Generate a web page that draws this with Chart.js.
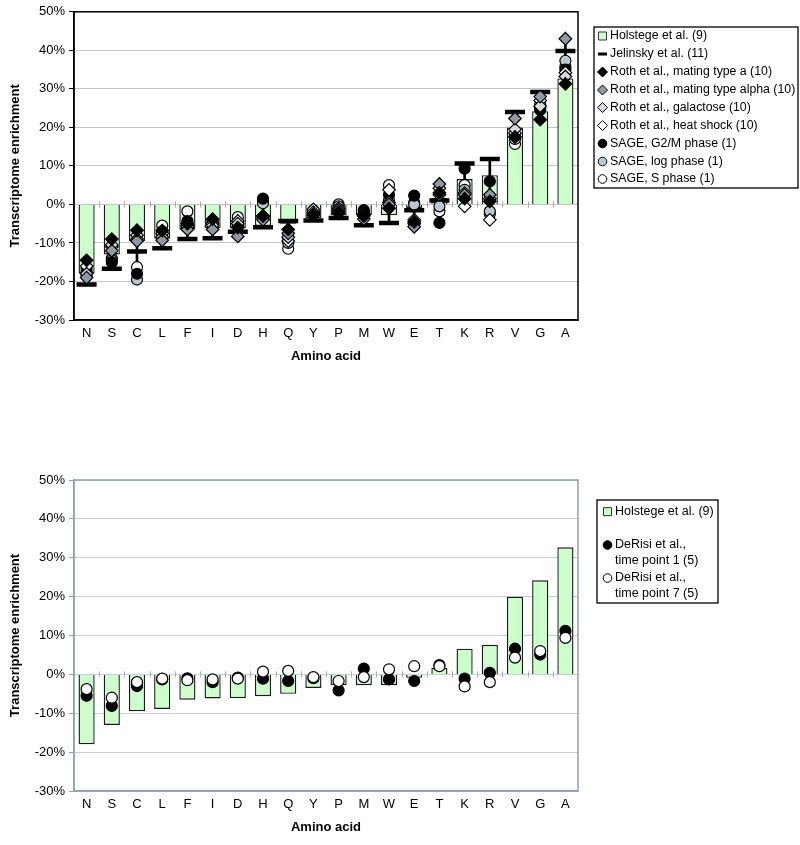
<!DOCTYPE html>
<html><head><meta charset="utf-8">
<script src="https://cdn.jsdelivr.net/npm/chart.js"></script>
<style>
html,body{margin:0;padding:0;background:#fff;width:800px;height:845px;overflow:hidden}
canvas{position:absolute;left:0}
#c1{top:0}
#c2{top:440px}
</style></head><body>
<canvas id="c1" width="800" height="370"></canvas>
<canvas id="c2" width="800" height="405"></canvas>
<script>
// ---------- data ----------
const aminoAcids = ['N','S','C','L','F','I','D','H','Q','Y','P','M','W','E','T','K','R','V','G','A'];
const yTickValues = [-30,-20,-10,0,10,20,30,40,50];

const holstege  = [-18,-13,-9.5,-8.9,-6.5,-6.2,-6.1,-5.6,-5,-3.5,-2.8,-2.8,-2.8,-0.9,1.7,6.6,7.6,20,24.2,32.7];
const jelinsky  = [-20.8,-16.7,-12.2,-11.4,-9,-8.8,-7.1,-5.9,-4.3,-4.2,-3.5,-5.4,-4.8,-1.5,1,10.6,11.8,24,29.2,39.8];
const rothA     = [-14.5,-9,-6.7,-6.8,-5,-3.8,-6,-3,-6.5,-2.5,-2,-3,-1,-4.5,3,1.5,0.8,17.5,22,31.3];
const rothAlpha = [-19,-12,-9.5,-9.3,-6.5,-6.5,-8.3,-4,-7.5,-2.8,-2.3,-3.8,0,-5.8,5.3,2.5,2.5,22.3,28,43];
const rothGal   = [-18,-10.5,-9,-8.5,-5.8,-5.5,-5,-3.5,-8.5,-2,-1.5,-2.8,0.5,-5,4.2,3,1.5,19.5,25.5,33.2];
const rothHeat  = [-16,-11,-8,-7.5,-5.5,-5,-4.3,-3,-9.5,-1.3,-1,-2.5,3.8,-4,2.5,-0.5,-4,18.5,27,34.2];
const sageG2M   = [-17.5,-15,-18,-7,-4.3,-4.5,-5.5,1.5,-8.5,-2.2,-1.2,-1.5,2.5,2.3,-4.8,9.3,6,17.8,24.5,35];
const sageLog   = [-18.5,-14.5,-19.5,-8,-5,-5,-4.8,0.3,-10,-2,-0.5,-2.5,1,0,-0.5,3.8,-1.8,17,26,37.3];
const sageS     = [-16.5,-14,-16.3,-5.5,-1.8,-4.5,-3.3,1,-11.5,-1.5,0,-2,5,0.5,-1.8,5,-2.5,15.7,25,35.7];

const derisiTp1 = [-5.5,-8.1,-3,-1.3,-1,-2,-0.8,-1.1,-1.7,-1,-4.1,1.5,-1.3,-1.7,2.4,-1.1,0.4,6.6,5.1,11.2];
const derisiTp7 = [-3.8,-6,-2,-1.1,-1.5,-1.3,-1.1,0.7,0.9,-0.7,-1.7,-0.7,1.3,2.1,2.1,-3.1,-2,4.3,6,9.4];

const topNames = ['Holstege et al. (9)','Jelinsky et al. (11)','Roth et al., mating type a (10)','Roth et al., mating type alpha (10)','Roth et al., galactose (10)','Roth et al., heat shock (10)','SAGE, G2/M phase (1)','SAGE, log phase (1)','SAGE, S phase (1)'];
const bottomNames = ['Holstege et al. (9)','DeRisi et al., time point 1 (5)','DeRisi et al., time point 7 (5)'];
const yTitle = 'Transcriptome enrichment';
const xTitle = 'Amino acid';

// Excel-style high-low lines across the marker series
const markerSeries = [jelinsky, rothA, rothAlpha, rothGal, rothHeat, sageG2M, sageLog, sageS];
const highLow = aminoAcids.map((_, i) => {
  const v = markerSeries.map(s => s[i]);
  return [Math.min(...v), Math.max(...v)];
});

// ---------- styling ----------
Chart.defaults.font.family = "'Liberation Sans', Arial, sans-serif";
Chart.defaults.color = '#000';

const FONT = "'Liberation Sans', Arial, sans-serif";

function drawSymbol(ctx, kind, x, y, fill) {
  ctx.save();
  ctx.lineWidth = 1;
  ctx.strokeStyle = '#000';
  ctx.fillStyle = fill;
  ctx.beginPath();
  if (kind === 'square') {
    ctx.rect(x - 4, y - 4, 8, 8);
    ctx.fillStyle = fill; ctx.fill(); ctx.strokeStyle = '#333'; ctx.stroke();
  } else if (kind === 'dash') {
    ctx.fillStyle = '#000';
    ctx.fillRect(x - 4.5, y - 1.5, 9, 3);
  } else if (kind === 'diamond') {
    const r = 5;
    ctx.moveTo(x, y - r); ctx.lineTo(x + r, y); ctx.lineTo(x, y + r); ctx.lineTo(x - r, y); ctx.closePath();
    ctx.fill(); ctx.stroke();
  } else if (kind === 'circle') {
    ctx.arc(x, y, 4.3, 0, Math.PI * 2);
    ctx.fill(); ctx.stroke();
  }
  ctx.restore();
}

const boxLegend = {
  id: 'boxLegend',
  afterDraw(chart, args, o) {
    const ctx = chart.ctx;
    ctx.save();
    ctx.fillStyle = '#fff';
    ctx.fillRect(o.x, o.y, o.w, o.h);
    ctx.strokeStyle = '#000';
    ctx.lineWidth = 1.3;
    ctx.strokeRect(o.x, o.y, o.w, o.h);
    ctx.font = o.fontSize + 'px ' + FONT;
    ctx.textBaseline = 'middle';
    ctx.fillStyle = '#000';
    o.items.forEach((it, k) => {
      const ds = chart.data.datasets[it.ds];
      const y = o.itemY[k];
      drawSymbol(ctx, it.kind, o.symX, y, it.fill);
      let lines = [ds.label];
      if (o.splitComma && ds.label.indexOf(', ') > 0) {
        const p = ds.label.indexOf(', ');
        lines = [ds.label.slice(0, p + 1), ds.label.slice(p + 2)];
      }
      ctx.fillStyle = '#000';
      lines.forEach((t, j) => ctx.fillText(t, o.textX, y + j * o.lineH));
    });
    ctx.restore();
  }
};

const frame = {
  id: 'frame',
  beforeDatasetsDraw(chart, args, o) {
    const {ctx, chartArea: a, scales} = chart;
    ctx.save();
    const xs = scales.x, y0 = scales.y.getPixelForValue(0);
    ctx.strokeStyle = o.tickColor;
    ctx.lineWidth = 1;
    const n = xs.ticks.length;
    for (let i = 1; i < n; i++) {
      const xb = Math.round((xs.getPixelForValue(i - 1) + xs.getPixelForValue(i)) / 2) + 0.5;
      ctx.beginPath(); ctx.moveTo(xb, y0 - 3); ctx.lineTo(xb, y0 + 3); ctx.stroke();
    }
    ctx.strokeStyle = o.color;
    ctx.lineWidth = o.width;
    ctx.strokeRect(a.left, a.top, a.right - a.left, a.bottom - a.top);
    ctx.restore();
  }
};

function markers(label, data, style, fill, radius, order, bw) {
  return {
    type: 'line', label, data, showLine: false, order,
    pointStyle: style, pointRadius: radius, pointHoverRadius: radius,
    pointBackgroundColor: fill, pointBorderColor: '#000', pointBorderWidth: bw || 1.2,
    borderColor: '#000', backgroundColor: fill
  };
}

function makeScales(axisColor, gridColor, tickColor) {
  return {
    x: {
      grid: { display: false, drawTicks: false },
      border: { display: true, color: axisColor, width: 1.5 },
      ticks: { padding: 6, font: { size: 13 }, color: '#000', maxRotation: 0, autoSkip: false },
      title: { display: true, text: xTitle, font: { size: 13, weight: 'bold' }, padding: { top: 0, bottom: 2 }, color: '#000' },
      afterFit(s) { s.height = 46; }
    },
    y: {
      min: -30, max: 50,
      afterBuildTicks(s) { s.ticks = yTickValues.map(v => ({ value: v })); },
      grid: { color: gridColor, lineWidth: 1, tickColor: tickColor, tickLength: 5, drawTicks: true },
      border: { display: true, color: axisColor, width: 1.5 },
      ticks: { font: { size: 13 }, color: '#000', padding: 4, callback: v => v + '%' },
      title: { display: true, text: yTitle, font: { size: 13, weight: 'bold' }, padding: { top: 8, bottom: 0 }, color: '#000' },
      afterFit(s) { s.width = 74; }
    }
  };
}

const BAR_FILL = '#ccffcc';

// ---------- top chart ----------
new Chart(document.getElementById('c1'), {
  type: 'bar',
  data: {
    labels: aminoAcids,
    datasets: [
      { type: 'bar', label: topNames[0], data: holstege, backgroundColor: BAR_FILL, borderColor: '#1a1a1a', borderWidth: 1.4,
        barPercentage: 0.64, categoryPercentage: 1, grouped: false, order: 30 },
      { type: 'bar', label: 'High-low', data: highLow, backgroundColor: '#000', borderWidth: 0,
        barThickness: 2, grouped: false, order: 29 },
      markers(topNames[1], jelinsky, 'line', '#000', 10, 28, 4.5),
      markers(topNames[8], sageS, 'circle', '#ffffff', 5.5, 27),
      markers(topNames[7], sageLog, 'circle', '#bcc6ce', 5.5, 26),
      markers(topNames[6], sageG2M, 'circle', '#000000', 5.5, 25),
      markers(topNames[5], rothHeat, 'rectRot', '#ffffff', 6.3, 24),
      markers(topNames[4], rothGal, 'rectRot', '#d4dade', 6.3, 23),
      markers(topNames[3], rothAlpha, 'rectRot', '#8e9aa4', 6.3, 22),
      markers(topNames[2], rothA, 'rectRot', '#000000', 6.3, 21)
    ]
  },
  options: {
    responsive: false, animation: false, events: [],
    layout: { autoPadding: false, padding: { left: 0, right: 222, top: 8, bottom: 4 } },
    scales: makeScales('#000', '#c4c4c4', '#000'),
    plugins: {
      legend: { display: false }, tooltip: { enabled: false },
      frame: { color: '#000', width: 1.5, tickColor: '#a8a8a8' },
      boxLegend: {
        x: 594, y: 27, w: 204, h: 161, fontSize: 12.3, symX: 602.5, textX: 610, lineH: 15,
        itemY: [36, 54, 72, 90, 107.5, 125.5, 143.5, 161.5, 179],
        items: [
          { ds: 0, kind: 'square', fill: BAR_FILL },
          { ds: 2, kind: 'dash', fill: '#000' },
          { ds: 9, kind: 'diamond', fill: '#000' },
          { ds: 8, kind: 'diamond', fill: '#8e9aa4' },
          { ds: 7, kind: 'diamond', fill: '#d4dade' },
          { ds: 6, kind: 'diamond', fill: '#fff' },
          { ds: 5, kind: 'circle', fill: '#000' },
          { ds: 4, kind: 'circle', fill: '#bcc6ce' },
          { ds: 3, kind: 'circle', fill: '#fff' }
        ]
      }
    }
  },
  plugins: [frame, boxLegend]
});

// ---------- bottom chart ----------
new Chart(document.getElementById('c2'), {
  type: 'bar',
  data: {
    labels: aminoAcids,
    datasets: [
      { type: 'bar', label: bottomNames[0], data: holstege, backgroundColor: BAR_FILL, borderColor: '#1a1a1a', borderWidth: 1.4,
        barPercentage: 0.64, categoryPercentage: 1, grouped: false, order: 30 },
      markers(bottomNames[1], derisiTp1, 'circle', '#000000', 5.5, 22),
      markers(bottomNames[2], derisiTp7, 'circle', '#ffffff', 5.5, 21)
    ]
  },
  options: {
    responsive: false, animation: false, events: [],
    layout: { autoPadding: false, padding: { left: 0, right: 222, top: 40, bottom: 8 } },
    scales: makeScales('#8fa1b1', '#c6ced6', '#8fa1b1'),
    plugins: {
      legend: { display: false }, tooltip: { enabled: false },
      frame: { color: '#8fa1b1', width: 1.5, tickColor: '#b0b0b0' },
      boxLegend: {
        x: 597, y: 60, w: 121, h: 103, fontSize: 12.5, symX: 607.5, textX: 615, lineH: 15.7, splitComma: true,
        itemY: [71.7, 105, 138],
        items: [
          { ds: 0, kind: 'square', fill: BAR_FILL },
          { ds: 1, kind: 'circle', fill: '#000' },
          { ds: 2, kind: 'circle', fill: '#fff' }
        ]
      }
    }
  },
  plugins: [frame, boxLegend]
});
</script>
</body></html>
